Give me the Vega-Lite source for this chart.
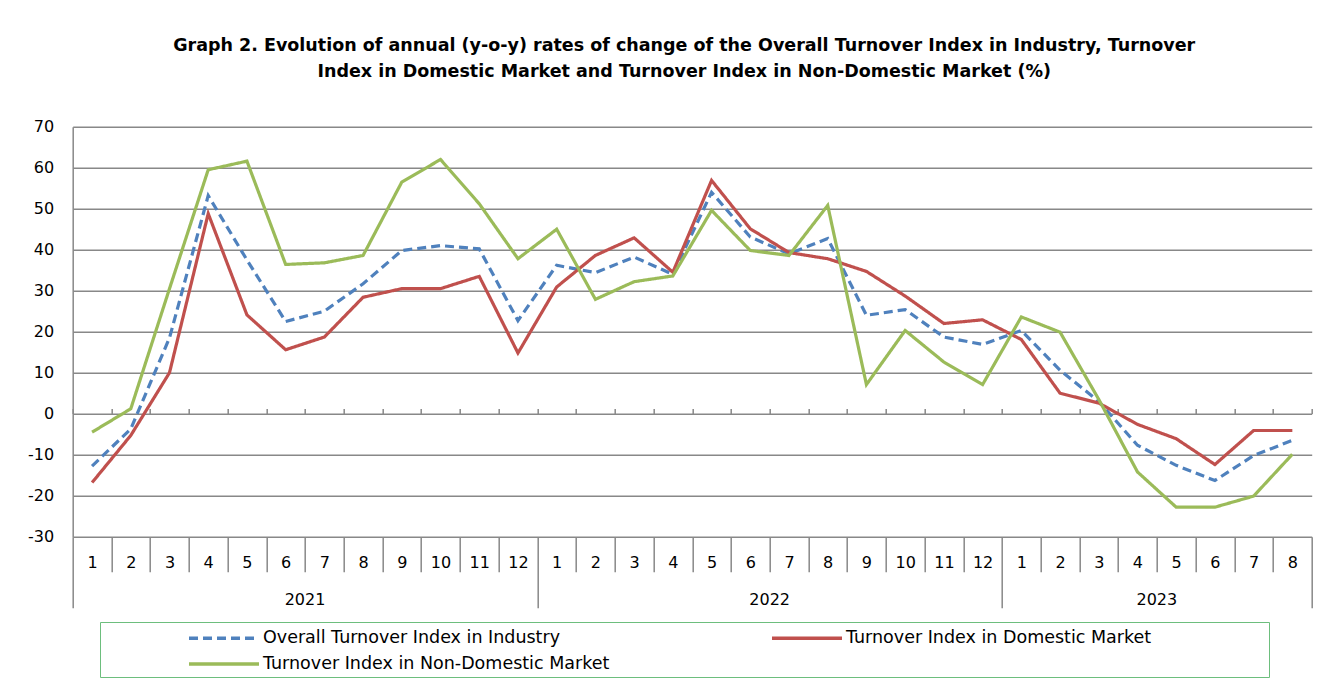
{
  "$schema": "https://vega.github.io/schema/vega-lite/v6.json",
  "autosize": {"type": "none"},
  "padding": {"left": 72.7, "top": 126.7, "right": 22.3, "bottom": 163.3},
  "width": 1239,
  "height": 410,
  "background": "white",
  "config": {
    "font": "DejaVu Sans",
    "view": {"stroke": null},
    "axis": {"labelFont": "DejaVu Sans", "labelColor": "#000000"}
  },
  "title": {
    "text": ["Graph 2. Evolution of annual (y-o-y) rates of change of the Overall Turnover Index in Industry, Turnover", "Index in Domestic Market and Turnover Index in Non-Domestic Market (%)"],
    "font": "DejaVu Sans",
    "fontSize": 17.5,
    "fontWeight": "bold",
    "color": "#000000",
    "anchor": "middle",
    "lineHeight": 26,
    "offset": 38,
    "dx": -8
  },
  "data": {
    "values": [
      {"period": "2021-1", "series": "Overall Turnover Index in Industry", "value": -12.8},
      {"period": "2021-2", "series": "Overall Turnover Index in Industry", "value": -3.7},
      {"period": "2021-3", "series": "Overall Turnover Index in Industry", "value": 18.5},
      {"period": "2021-4", "series": "Overall Turnover Index in Industry", "value": 53.2},
      {"period": "2021-5", "series": "Overall Turnover Index in Industry", "value": 37.5},
      {"period": "2021-6", "series": "Overall Turnover Index in Industry", "value": 22.5},
      {"period": "2021-7", "series": "Overall Turnover Index in Industry", "value": 25.0},
      {"period": "2021-8", "series": "Overall Turnover Index in Industry", "value": 31.7},
      {"period": "2021-9", "series": "Overall Turnover Index in Industry", "value": 39.8},
      {"period": "2021-10", "series": "Overall Turnover Index in Industry", "value": 41.0},
      {"period": "2021-11", "series": "Overall Turnover Index in Industry", "value": 40.2},
      {"period": "2021-12", "series": "Overall Turnover Index in Industry", "value": 22.7},
      {"period": "2022-1", "series": "Overall Turnover Index in Industry", "value": 36.2},
      {"period": "2022-2", "series": "Overall Turnover Index in Industry", "value": 34.4},
      {"period": "2022-3", "series": "Overall Turnover Index in Industry", "value": 38.2},
      {"period": "2022-4", "series": "Overall Turnover Index in Industry", "value": 34.0},
      {"period": "2022-5", "series": "Overall Turnover Index in Industry", "value": 54.0},
      {"period": "2022-6", "series": "Overall Turnover Index in Industry", "value": 43.1},
      {"period": "2022-7", "series": "Overall Turnover Index in Industry", "value": 39.0},
      {"period": "2022-8", "series": "Overall Turnover Index in Industry", "value": 42.7},
      {"period": "2022-9", "series": "Overall Turnover Index in Industry", "value": 24.0},
      {"period": "2022-10", "series": "Overall Turnover Index in Industry", "value": 25.4},
      {"period": "2022-11", "series": "Overall Turnover Index in Industry", "value": 18.7},
      {"period": "2022-12", "series": "Overall Turnover Index in Industry", "value": 16.9},
      {"period": "2023-1", "series": "Overall Turnover Index in Industry", "value": 20.3},
      {"period": "2023-2", "series": "Overall Turnover Index in Industry", "value": 10.6},
      {"period": "2023-3", "series": "Overall Turnover Index in Industry", "value": 3.0},
      {"period": "2023-4", "series": "Overall Turnover Index in Industry", "value": -7.7},
      {"period": "2023-5", "series": "Overall Turnover Index in Industry", "value": -12.6},
      {"period": "2023-6", "series": "Overall Turnover Index in Industry", "value": -16.3},
      {"period": "2023-7", "series": "Overall Turnover Index in Industry", "value": -10.2},
      {"period": "2023-8", "series": "Overall Turnover Index in Industry", "value": -6.5},
      {"period": "2021-1", "series": "Turnover Index in Domestic Market", "value": -16.8},
      {"period": "2021-2", "series": "Turnover Index in Domestic Market", "value": -5.3},
      {"period": "2021-3", "series": "Turnover Index in Domestic Market", "value": 10.0},
      {"period": "2021-4", "series": "Turnover Index in Domestic Market", "value": 48.8},
      {"period": "2021-5", "series": "Turnover Index in Domestic Market", "value": 24.1},
      {"period": "2021-6", "series": "Turnover Index in Domestic Market", "value": 15.6},
      {"period": "2021-7", "series": "Turnover Index in Domestic Market", "value": 18.7},
      {"period": "2021-8", "series": "Turnover Index in Domestic Market", "value": 28.4},
      {"period": "2021-9", "series": "Turnover Index in Domestic Market", "value": 30.5},
      {"period": "2021-10", "series": "Turnover Index in Domestic Market", "value": 30.5},
      {"period": "2021-11", "series": "Turnover Index in Domestic Market", "value": 33.5},
      {"period": "2021-12", "series": "Turnover Index in Domestic Market", "value": 14.8},
      {"period": "2022-1", "series": "Turnover Index in Domestic Market", "value": 30.9},
      {"period": "2022-2", "series": "Turnover Index in Domestic Market", "value": 38.6},
      {"period": "2022-3", "series": "Turnover Index in Domestic Market", "value": 42.9},
      {"period": "2022-4", "series": "Turnover Index in Domestic Market", "value": 34.5},
      {"period": "2022-5", "series": "Turnover Index in Domestic Market", "value": 56.9},
      {"period": "2022-6", "series": "Turnover Index in Domestic Market", "value": 45.1},
      {"period": "2022-7", "series": "Turnover Index in Domestic Market", "value": 39.3},
      {"period": "2022-8", "series": "Turnover Index in Domestic Market", "value": 37.8},
      {"period": "2022-9", "series": "Turnover Index in Domestic Market", "value": 34.7},
      {"period": "2022-10", "series": "Turnover Index in Domestic Market", "value": 28.7},
      {"period": "2022-11", "series": "Turnover Index in Domestic Market", "value": 22.0},
      {"period": "2022-12", "series": "Turnover Index in Domestic Market", "value": 22.9},
      {"period": "2023-1", "series": "Turnover Index in Domestic Market", "value": 18.1},
      {"period": "2023-2", "series": "Turnover Index in Domestic Market", "value": 5.0},
      {"period": "2023-3", "series": "Turnover Index in Domestic Market", "value": 2.6},
      {"period": "2023-4", "series": "Turnover Index in Domestic Market", "value": -2.6},
      {"period": "2023-5", "series": "Turnover Index in Domestic Market", "value": -6.1},
      {"period": "2023-6", "series": "Turnover Index in Domestic Market", "value": -12.4},
      {"period": "2023-7", "series": "Turnover Index in Domestic Market", "value": -4.1},
      {"period": "2023-8", "series": "Turnover Index in Domestic Market", "value": -4.1},
      {"period": "2021-1", "series": "Turnover Index in Non-Domestic Market", "value": -4.5},
      {"period": "2021-2", "series": "Turnover Index in Non-Domestic Market", "value": 1.2},
      {"period": "2021-3", "series": "Turnover Index in Non-Domestic Market", "value": 30.5},
      {"period": "2021-4", "series": "Turnover Index in Non-Domestic Market", "value": 59.5},
      {"period": "2021-5", "series": "Turnover Index in Non-Domestic Market", "value": 61.6},
      {"period": "2021-6", "series": "Turnover Index in Non-Domestic Market", "value": 36.4},
      {"period": "2021-7", "series": "Turnover Index in Non-Domestic Market", "value": 36.8},
      {"period": "2021-8", "series": "Turnover Index in Non-Domestic Market", "value": 38.6},
      {"period": "2021-9", "series": "Turnover Index in Non-Domestic Market", "value": 56.5},
      {"period": "2021-10", "series": "Turnover Index in Non-Domestic Market", "value": 62.0},
      {"period": "2021-11", "series": "Turnover Index in Non-Domestic Market", "value": 51.2},
      {"period": "2021-12", "series": "Turnover Index in Non-Domestic Market", "value": 37.8},
      {"period": "2022-1", "series": "Turnover Index in Non-Domestic Market", "value": 45.0},
      {"period": "2022-2", "series": "Turnover Index in Non-Domestic Market", "value": 27.9},
      {"period": "2022-3", "series": "Turnover Index in Non-Domestic Market", "value": 32.2},
      {"period": "2022-4", "series": "Turnover Index in Non-Domestic Market", "value": 33.6},
      {"period": "2022-5", "series": "Turnover Index in Non-Domestic Market", "value": 49.6},
      {"period": "2022-6", "series": "Turnover Index in Non-Domestic Market", "value": 39.8},
      {"period": "2022-7", "series": "Turnover Index in Non-Domestic Market", "value": 38.6},
      {"period": "2022-8", "series": "Turnover Index in Non-Domestic Market", "value": 50.8},
      {"period": "2022-9", "series": "Turnover Index in Non-Domestic Market", "value": 7.1},
      {"period": "2022-10", "series": "Turnover Index in Non-Domestic Market", "value": 20.3},
      {"period": "2022-11", "series": "Turnover Index in Non-Domestic Market", "value": 12.6},
      {"period": "2022-12", "series": "Turnover Index in Non-Domestic Market", "value": 7.1},
      {"period": "2023-1", "series": "Turnover Index in Non-Domestic Market", "value": 23.6},
      {"period": "2023-2", "series": "Turnover Index in Non-Domestic Market", "value": 19.9},
      {"period": "2023-3", "series": "Turnover Index in Non-Domestic Market", "value": 3.5},
      {"period": "2023-4", "series": "Turnover Index in Non-Domestic Market", "value": -14.2},
      {"period": "2023-5", "series": "Turnover Index in Non-Domestic Market", "value": -22.8},
      {"period": "2023-6", "series": "Turnover Index in Non-Domestic Market", "value": -22.8},
      {"period": "2023-7", "series": "Turnover Index in Non-Domestic Market", "value": -20.1},
      {"period": "2023-8", "series": "Turnover Index in Non-Domestic Market", "value": -9.9}
    ]
  },
  "resolve": {"axis": {"x": "independent"}},
  "layer": [
    {
      "mark": {"type": "line", "strokeWidth": 3.2},
      "encoding": {
        "x": {
          "field": "period", "type": "ordinal", "sort": null,
          "scale": {"paddingInner": 0, "paddingOuter": 0},
          "axis": {
            "orient": "bottom", "title": null, "domain": false,
            "tickBand": "extent",
            "tickColor": "#888888", "tickWidth": 1.5,
            "tickSize": {"condition": {"test": "datum.index < 0 || datum.extra || split(datum.value, '-')[1] == '12' || datum.value == '2023-8'", "value": 71}, "value": 35},
            "labelExpr": "split(datum.value, '-')[1]",
            "labelAngle": 0, "labelFontSize": 16,
            "labelPadding": {"condition": {"test": "datum.index < 0 || datum.extra || split(datum.value, '-')[1] == '12' || datum.value == '2023-8'", "value": -53}, "value": -17},
            "labelOverlap": false, "labelBound": false
          }
        },
        "y": {
          "field": "value", "type": "quantitative",
          "scale": {"domain": [-30, 70], "nice": false, "zero": false},
          "axis": {
            "title": null, "values": [-30, -20, -10, 0, 10, 20, 30, 40, 50, 60, 70],
            "labelExpr": "'' + datum.value",
            "ticks": false, "domainColor": "#888888", "domainWidth": 1.5,
            "gridColor": "#888888", "gridWidth": 1.5, "gridOpacity": 1,
            "labelFontSize": 16, "labelPadding": 19
          }
        },
        "color": {
          "field": "series", "type": "nominal",
          "scale": {
            "domain": ["Overall Turnover Index in Industry", "Turnover Index in Domestic Market", "Turnover Index in Non-Domestic Market"],
            "range": ["#4F81BD", "#C0504D", "#9BBB59"]
          },
          "legend": {
            "title": " ", "titleOrient": "right", "titlePadding": 114, "titleFontSize": 10,
            "orient": "none", "legendX": 27.3, "legendY": 495.3,
            "direction": "horizontal", "columns": 2, "columnPadding": 77,
            "symbolType": "M-3.5,0H3.5", "symbolSize": 400, "symbolStrokeWidth": 3.5,
            "symbolOffset": 108,
            "labelFontSize": 17.5, "labelColor": "#000000", "labelOffset": 27, "labelLimit": 600,
            "strokeColor": "#6DBE7D", "padding": 4, "rowPadding": 5
          }
        },
        "strokeDash": {
          "field": "series", "type": "nominal",
          "scale": {
            "domain": ["Overall Turnover Index in Industry", "Turnover Index in Domestic Market", "Turnover Index in Non-Domestic Market"],
            "range": [[9, 5], [1, 0], [1, 0]]
          },
          "legend": {
            "title": " ", "titleOrient": "right", "titlePadding": 114, "titleFontSize": 10,
            "orient": "none", "legendX": 27.3, "legendY": 495.3,
            "direction": "horizontal", "columns": 2, "columnPadding": 77,
            "symbolType": "M-3.5,0H3.5", "symbolSize": 400, "symbolStrokeWidth": 3.5,
            "symbolOffset": 108,
            "labelFontSize": 17.5, "labelColor": "#000000", "labelOffset": 27, "labelLimit": 600,
            "strokeColor": "#6DBE7D", "padding": 4, "rowPadding": 5
          }
        }
      }
    },
    {
      "mark": {"type": "point", "opacity": 0},
      "encoding": {
        "x": {
          "field": "period", "type": "ordinal", "sort": null,
          "axis": {
            "orient": "bottom", "title": null, "domain": false, "ticks": false,
            "values": ["2021-6", "2022-6", "2023-4"],
            "labelExpr": "split(datum.value, '-')[0]",
            "labelOffset": 19.36, "labelAngle": 0, "labelFontSize": 16,
            "labelPadding": 55, "labelOverlap": false, "labelBound": false
          }
        },
        "y": {"field": "value", "type": "quantitative"}
      }
    },
    {
      "mark": {"type": "point", "opacity": 0},
      "encoding": {
        "x": {
          "field": "period", "type": "ordinal", "sort": null,
          "axis": {
            "orient": "top", "offset": -286.7, "title": null, "domain": false,
            "labels": false, "tickBand": "extent", "tickSize": 5,
            "tickColor": "#888888", "tickWidth": 1.5
          }
        },
        "y": {"field": "value", "type": "quantitative"}
      }
    }
  ]
}
